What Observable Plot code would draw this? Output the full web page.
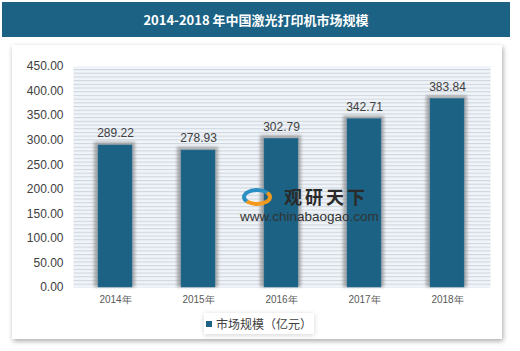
<!DOCTYPE html>
<html><head><meta charset="utf-8">
<script src="https://cdn.jsdelivr.net/npm/d3@7"></script>
<script src="https://cdn.jsdelivr.net/npm/@observablehq/plot@0.6"></script>
<style>
body{margin:0;background:#fff;width:520px;height:351px;overflow:hidden;position:relative;font-family:"Liberation Sans",Arial,sans-serif;}
#title{position:absolute;left:2px;top:2px;width:508px;height:35px;background:#1b6284;color:#fff;font:bold 13px "Noto Sans CJK SC","Liberation Sans",sans-serif;display:flex;align-items:center;justify-content:center;}
#panel{position:absolute;left:12px;top:45px;width:490px;height:294px;background:#fff;box-shadow:1px 2px 5px rgba(0,0,0,0.35);}
#chart{position:absolute;left:0;top:50px;}
#legend{position:absolute;left:204px;top:313px;width:110px;height:21px;background:#fff;box-shadow:0 1px 5px rgba(0,0,0,0.18);display:flex;align-items:center;justify-content:center;font:12px "Noto Sans CJK SC",sans-serif;color:#404040;}
#legend i{display:inline-block;width:6px;height:6px;background:#1b6284;margin-right:4px;}
#wm{position:absolute;left:240px;top:186px;width:140px;height:40px;pointer-events:none;}
#wm .cn{position:absolute;left:44px;top:0;line-height:20px;font:bold 18px/20px "Noto Sans CJK SC",sans-serif;color:#2a2a2a;letter-spacing:3px;white-space:nowrap;}
#wm .url{position:absolute;left:0;top:24px;font:13.5px/14px "Liberation Sans",sans-serif;color:#333;white-space:nowrap;}
#wm .logo{position:absolute;left:2px;top:2px;width:30px;height:18px;border-radius:50%;border:4px solid #f39a1e;border-top-color:#2b8fc4;border-left-color:#2b8fc4;box-sizing:border-box;}
</style></head>
<body>
<div id="title">2014-2018 年中国激光打印机市场规模</div>
<div id="panel"></div>
<div id="chart"></div>
<div id="wm"><span class="logo"></span><span class="cn">观研天下</span><span class="url">www.chinabaogao.com</span></div>
<div id="legend"><i></i>市场规模（亿元）</div>
<script>
const years = ["2014年","2015年","2016年","2017年","2018年"];
const values = [289.22, 278.93, 302.79, 342.71, 383.84];
const yTicks = [0,50,100,150,200,250,300,350,400,450];
const data = years.map((y,i)=>({year:y, value:values[i]}));

const chart = Plot.plot({
  width: 520, height: 262,
  marginLeft: 73, marginRight: 30, marginTop: 16, marginBottom: 25,
  style:{fontFamily:"Liberation Sans, Arial, sans-serif", background:"transparent"},
  x:{domain:years, paddingInner:0.59, paddingOuter:0.3, label:null, tickSize:0, tickPadding:8, fontSize:10},
  y:{domain:[0,450], ticks:yTicks, tickFormat:d=>d.toFixed(2), label:null, tickSize:0, tickPadding:10},
  marks:[
    Plot.frame({fill:"url(#stripes)", stroke:null}),
    Plot.barY(data,{x:"year", y:"value", fill:"#7a7a7a", fillOpacity:0.6, insetLeft:-4, insetRight:-3, insetTop:-3}),
    Plot.barY(data,{x:"year", y:"value", fill:"#1b6284", stroke:"#2c7196", strokeWidth:0.5}),
    Plot.text(data,{x:"year", y:"value", text:d=>d.value.toFixed(2), dy:-12, fill:"#404040", fontSize:12})
  ]
});
const svg = d3.select(chart);
const defs = svg.insert("defs",":first-child");
const p = defs.append("pattern").attr("id","stripes").attr("patternUnits","userSpaceOnUse").attr("width",8).attr("height",3.7);
p.append("rect").attr("width",8).attr("height",3.7).attr("fill","#f1f4f8");
p.append("rect").attr("width",8).attr("height",1.1).attr("fill","#cdd7e0");
defs.append("filter").attr("id","soft").attr("x","-50%").attr("y","-50%").attr("width","200%").attr("height","200%")
  .append("feGaussianBlur").attr("stdDeviation",1.6);
const barGroups = svg.selectAll("g[aria-label='bar']").nodes();
if (barGroups.length) d3.select(barGroups[0]).attr("filter","url(#soft)");
svg.selectAll("g[aria-label='y-axis tick label']").attr("fill","#404040").style("font-size","12px");
svg.selectAll("g[aria-label='x-axis tick label']").attr("fill","#595959").style("font-size","10px");
document.getElementById("chart").appendChild(chart);
</script>
</body></html>
